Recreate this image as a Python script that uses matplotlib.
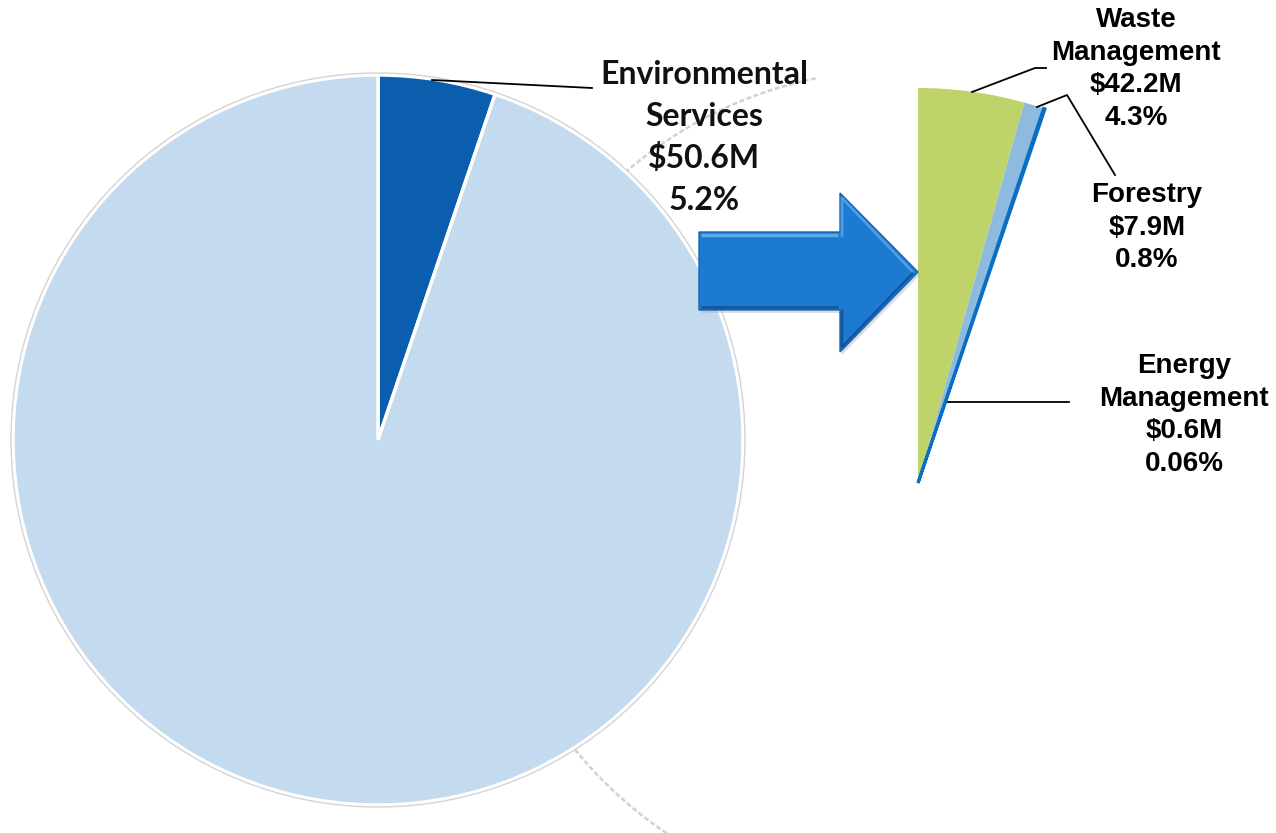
import numpy as np
import matplotlib
matplotlib.use("Agg")
import matplotlib.pyplot as plt
from matplotlib.patches import Polygon, Arc, Circle

# ---- data -------------------------------------------------------------
env_name = ["Environmental", "Services"]
env_value = 50.6          # $M
env_share = 5.2           # % of total budget

sub_names = [["Waste", "Management"], ["Forestry"], ["Energy", "Management"]]
sub_values = [42.2, 7.9, 0.6]          # $M
sub_shares = ["4.3%", "0.8%", "0.06%"]

total_budget = env_value / (env_share / 100.0)

# ---- figure in pixel units -------------------------------------------
W, H = 1276, 833
fig = plt.figure(figsize=(W / 100, H / 100), dpi=100)
ax = fig.add_axes([0, 0, 1, 1])


def Y(py):
    return H - py


# faint guide circle of the breakout pie (only partly visible)
guide = Arc((899, Y(487)), 2 * 417, 2 * 417, theta1=101.5, theta2=240,
            color="#d2d2d2", lw=1.8, ls=(0, (2, 1)), zorder=1)
ax.add_patch(guide)

# ---- main pie ---------------------------------------------------------
main_c = (378, Y(440))
main_r = 365
wedges, _ = ax.pie([env_value, total_budget - env_value],
                   colors=["#0b5eae", "#c4daef"], startangle=90,
                   counterclock=False, center=main_c, radius=main_r,
                   frame=True,
                   wedgeprops=dict(edgecolor="white", linewidth=2.5))
for w in wedges:
    w.set_zorder(2)
ax.add_patch(Circle(main_c, main_r + 2, fill=False, ec="#d4d4d4",
                    lw=1.0, zorder=2.5))

# ---- breakout pie (same scale as total budget) ------------------------
sub_c = (918, Y(483))
sub_r = 395
rest = total_budget - sum(sub_values)
sw, _ = ax.pie(sub_values + [rest],
               colors=["#bed46b", "#8dbbe0", "#0a6fc4", "white"],
               startangle=90, counterclock=False, center=sub_c,
               radius=sub_r, frame=True,
               wedgeprops=dict(linewidth=0))
sw[-1].set_visible(False)
for w in sw:
    w.set_zorder(3)
# thin slice drawn with an outline in its own colour so it stays visible
sw[2].set_edgecolor("#0a6fc4")
sw[2].set_linewidth(2.2)

# ---- arrow ------------------------------------------------------------
arrow_pts = [(699, 232), (840, 232), (840, 193), (918, 272),
             (840, 352), (840, 310), (699, 310)]
shadow = Polygon([(x + 2, Y(y + 3)) for x, y in arrow_pts], closed=True,
                 fc="#a9b6c3", ec="none", alpha=0.45, zorder=4)
ax.add_patch(shadow)
arrow = Polygon([(x, Y(y)) for x, y in arrow_pts], closed=True,
                fc="#1d7ad2", ec="#1664b0", lw=1.0, zorder=5)
ax.add_patch(arrow)
# bevel highlights / shades
ax.plot([701, 838], [Y(235), Y(235)], color="#5aa7ea", lw=2.5, zorder=6,
        solid_capstyle="butt")
ax.plot([842, 842, 912], [Y(236), Y(198), Y(271)], color="#4c9de4", lw=2,
        zorder=6)
ax.plot([701, 838], [Y(307), Y(307)], color="#14599c", lw=2.2, zorder=6,
        solid_capstyle="butt")
ax.plot([912, 842, 842], [Y(274), Y(347), Y(311)], color="#135596", lw=1.8,
        zorder=6)

# ---- leader lines -----------------------------------------------------
lc = dict(color="black", lw=1.3, zorder=7)
ax.plot([432, 592], [Y(80), Y(88)], **lc)
ax.plot([972, 1035, 1046], [Y(92), Y(68), Y(68)], **lc)
ax.plot([1037, 1067, 1115], [Y(107), Y(95), Y(175)], **lc)
ax.plot([948, 1069], [Y(402), Y(402)], **lc)

# ---- labels -----------------------------------------------------------
def stacked(lines, x, y0, step, **kw):
    for i, t in enumerate(lines):
        ax.text(x, Y(y0 + i * step), t, ha="center", va="center",
                zorder=8, **kw)


env_font = dict(family=["Lato", "DejaVu Sans"], fontweight="bold",
                fontsize=23, color="#111111")
stacked(env_name + [f"${env_value}M", f"{env_share}%"], 704, 74, 42,
        **env_font)

sub_font = dict(family=["Liberation Sans", "DejaVu Sans"],
                fontweight="bold", fontsize=20, color="black")
label_pos = [(1136, 20), (1147, 195), (1184, 366)]
for names, v, s, (lx, ly) in zip(sub_names, sub_values, sub_shares,
                                 label_pos):
    stacked(names + [f"${v}M", s], lx, ly, 32.5, **sub_font)

ax.set_xlim(0, W)
ax.set_ylim(0, H)
ax.set_aspect("equal")
ax.axis("off")
fig.savefig("out.png", dpi=100, facecolor="white")
